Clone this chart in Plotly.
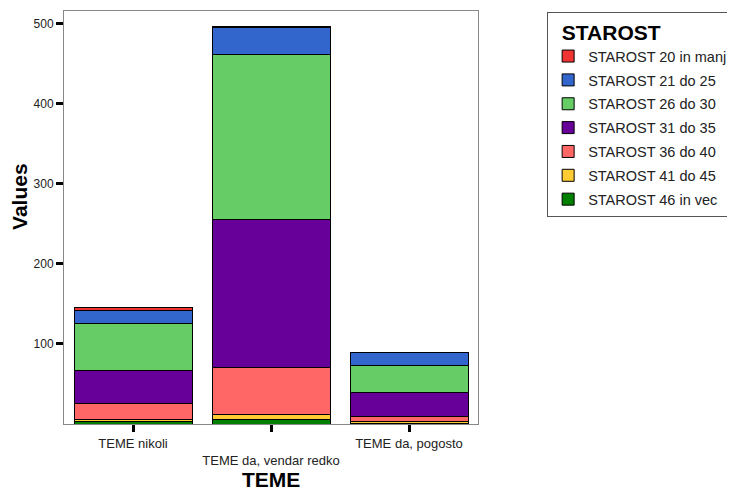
import plotly.graph_objects as go

categories = ["TEME nikoli", "TEME da, vendar redko", "TEME da, pogosto"]
tick_text = ["TEME nikoli", "<br>TEME da, vendar redko", "TEME da, pogosto"]

series_names = ["STAROST 46 in vec", "STAROST 41 do 45", "STAROST 36 do 40",
                "STAROST 31 do 35", "STAROST 26 do 30", "STAROST 21 do 25",
                "STAROST 20 in manj"]
series_values = [
    [3, 6, 1],
    [3, 6, 2],
    [19, 59, 7],
    [42, 185, 29],
    [58, 206, 34],
    [17, 33, 16],
    [3, 2, 0],
]
series_colors = ["#008000", "#FFCC33", "#FF6666", "#660099", "#66CC66", "#3366CC", "#F03333"]
y_ticks = [100, 200, 300, 400, 500]

fig = go.Figure()
n = len(series_names)
for i, (name, vals, col) in enumerate(zip(series_names, series_values, series_colors)):
    fig.add_trace(go.Bar(
        x=categories, y=vals, name=name,
        marker=dict(color=col, line=dict(color="black", width=1)),
        legendgroup=name, legendrank=n - i,
    ))

FONT = "Liberation Sans, Arial, sans-serif"
# the page body adds an 8px offset, so the figure is 8px smaller and margins shifted
fig.update_layout(
    barmode="stack", bargap=0.145,
    width=727, height=485,
    margin=dict(l=56, r=257, t=3, b=69, autoexpand=False),
    plot_bgcolor="white", paper_bgcolor="white",
    font=dict(family=FONT, color="#222", size=13),
    showlegend=True,
    legend=dict(
        title=dict(text="<b>\u00a0\u00a0STAROST</b>", font=dict(size=21, color="black")),
        x=1.167, y=0.998, xanchor="left", yanchor="top",
        bgcolor="white", bordercolor="#555", borderwidth=1,
        font=dict(size=14.5, color="#222"),
        traceorder="grouped", tracegroupgap=2,
    ),
    annotations=[
        dict(text="<b>TEME</b>", xref="paper", yref="paper", x=0.5, y=-0.135,
             xanchor="center", yanchor="middle", showarrow=False,
             font=dict(size=21, color="black", family=FONT)),
        dict(text="<b>Values</b>", xref="paper", yref="paper", x=-0.106, y=0.55,
             xanchor="center", yanchor="middle", showarrow=False, textangle=-90,
             font=dict(size=21, color="black", family=FONT)),
    ],
)
fig.update_xaxes(
    tickmode="array", tickvals=categories, ticktext=tick_text,
    tickfont=dict(size=13, color="#222"),
    ticks="outside", ticklen=7, tickwidth=3, tickcolor="black",
    showline=True, linecolor="#888", linewidth=1, mirror=True, automargin=False,
)
fig.update_yaxes(
    range=[0, 516], tickmode="array", tickvals=y_ticks,
    tickfont=dict(size=12, color="#222"),
    ticks="outside", ticklen=7, tickwidth=3, tickcolor="black",
    showgrid=False, zeroline=False, automargin=False,
    showline=True, linecolor="#888", linewidth=1, mirror=True,
)

fig.write_html("out.html")
